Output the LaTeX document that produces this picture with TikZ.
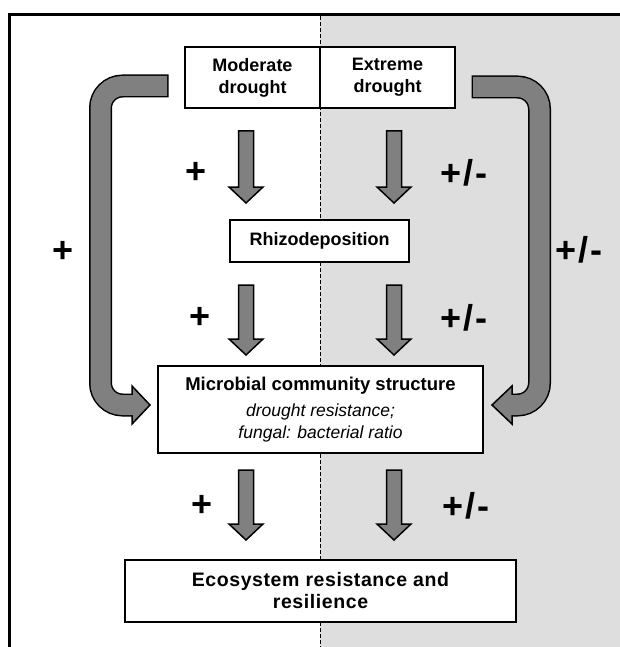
\documentclass[tikz,border=0pt]{standalone}
\usepackage{fontspec}
\setmainfont{Liberation Sans}
\usetikzlibrary{calc}
\definecolor{bggray}{RGB}{222,222,222}
\definecolor{arrgray}{RGB}{128,128,128}
\newcommand{\fatdown}[2]{%
  \draw[fat] ($(#1)+(-7.5,0)$) -- ($(#1)+(7.5,0)$) -- ($(#2)+(7.5,-16)$) -- ($(#2)+(17,-16)$) -- (#2) -- ($(#2)+(-17,-16)$) -- ($(#2)+(-7.5,-16)$) -- cycle;}
\newcommand{\pmlabel}{+\kern2pt/\kern2pt-}
\newcommand{\itl}[1]{{\mdseries\itshape\fontsize{17.5}{21}\selectfont #1}}
\begin{document}
\begin{tikzpicture}[x=1pt,y=-1pt,
  box/.style={draw=black, line width=1.8pt, fill=white, align=center, inner sep=0pt,
    font=\fontsize{18}{22}\selectfont\bfseries},
  sign/.style={font=\fontsize{36}{36}\selectfont\bfseries, inner sep=0pt},
  fat/.style={draw=black, line width=1.5pt, fill=arrgray, line join=miter}]
\useasboundingbox (0,0) rectangle (620,647);
% background halves
\fill[bggray] (320,16) rectangle (620,647);
\draw[line width=1pt, dash pattern=on 4pt off 2pt] (320,16) -- (320,647);
\draw[line width=3pt] (9.5,647) -- (9.5,14.5) -- (620,14.5);
% boxes
\node[box, minimum width=135, minimum height=61] (mod) at (252.5,77.5) {Moderate\\drought};
\node[box, minimum width=135, minimum height=61] (ext) at (387.5,77.5) {Extreme\\drought};
\node[box, minimum width=179, minimum height=42] (rhi) at (319.5,241) {Rhizodeposition};
\node[box, minimum width=325, minimum height=87] (mic) at (320.5,409.5)
  {{\fontsize{18.5}{22}\selectfont Microbial community structure}\\[4pt]\itl{drought resistance;}\\\itl{fungal: bacterial ratio}};
\node[box, minimum width=391, minimum height=62, font=\fontsize{19.5}{22}\selectfont\bfseries\addfontfeatures{LetterSpace=3}] (eco) at (320.5,591) {Ecosystem resistance and\\resilience};
% straight arrows
\coordinate (a1t) at (246,131); \coordinate (a1b) at (246,203);
\coordinate (a2t) at (394,131); \coordinate (a2b) at (394,203);
\coordinate (b1t) at (246,285); \coordinate (b1b) at (246,355);
\coordinate (b2t) at (394,285); \coordinate (b2b) at (394,355);
\coordinate (c1t) at (246,470); \coordinate (c1b) at (246,540);
\coordinate (c2t) at (394,470); \coordinate (c2b) at (394,540);
\fatdown{a1t}{a1b}\fatdown{a2t}{a2b}
\fatdown{b1t}{b1b}\fatdown{b2t}{b2b}
\fatdown{c1t}{c1b}\fatdown{c2t}{c2b}
% curved arrow left
\coordinate (cl0) at (167,86); \coordinate (cl1) at (100.5,86);
\coordinate (cl2) at (100.5,405); \coordinate (cl3) at (132,405);
\coordinate (cltip) at (150,405);
\draw[line width=23pt, rounded corners=22pt] ($(cl0)+(1.5,0)$) -- (cl1) -- (cl2) -- ($(cl3)+(1,0)$);
\draw[fat] ($(cl3)+(0,-19)$) -- (cltip) -- ($(cl3)+(0,19)$) -- cycle;
\draw[arrgray, line width=20pt, rounded corners=22pt] (cl0) -- (cl1) -- (cl2) -- ($(cl3)+(2,0)$);
% curved arrow right
\coordinate (cr0) at (473,87); \coordinate (cr1) at (539.5,87);
\coordinate (cr2) at (539.5,405); \coordinate (cr3) at (512,405);
\coordinate (crtip) at (492,405);
\draw[line width=23pt, rounded corners=22pt] ($(cr0)+(-1.5,0)$) -- (cr1) -- (cr2) -- ($(cr3)+(-1,0)$);
\draw[fat] ($(cr3)+(0,-19)$) -- (crtip) -- ($(cr3)+(0,19)$) -- cycle;
\draw[arrgray, line width=20pt, rounded corners=22pt] (cr0) -- (cr1) -- (cr2) -- ($(cr3)+(-2,0)$);
% labels
\node[sign] (p1) at (196,173) {+};
\node[sign] (q1) at (464,173) {\pmlabel};
\node[sign] (p2) at (200,318) {+};
\node[sign] (q2) at (464,318) {\pmlabel};
\node[sign] (p3) at (202,506) {+};
\node[sign] (q3) at (466,506) {\pmlabel};
\node[sign] (bigL) at (63,252) {+};
\node[sign] (bigR) at (579,250) {\pmlabel};
\end{tikzpicture}
\end{document}
